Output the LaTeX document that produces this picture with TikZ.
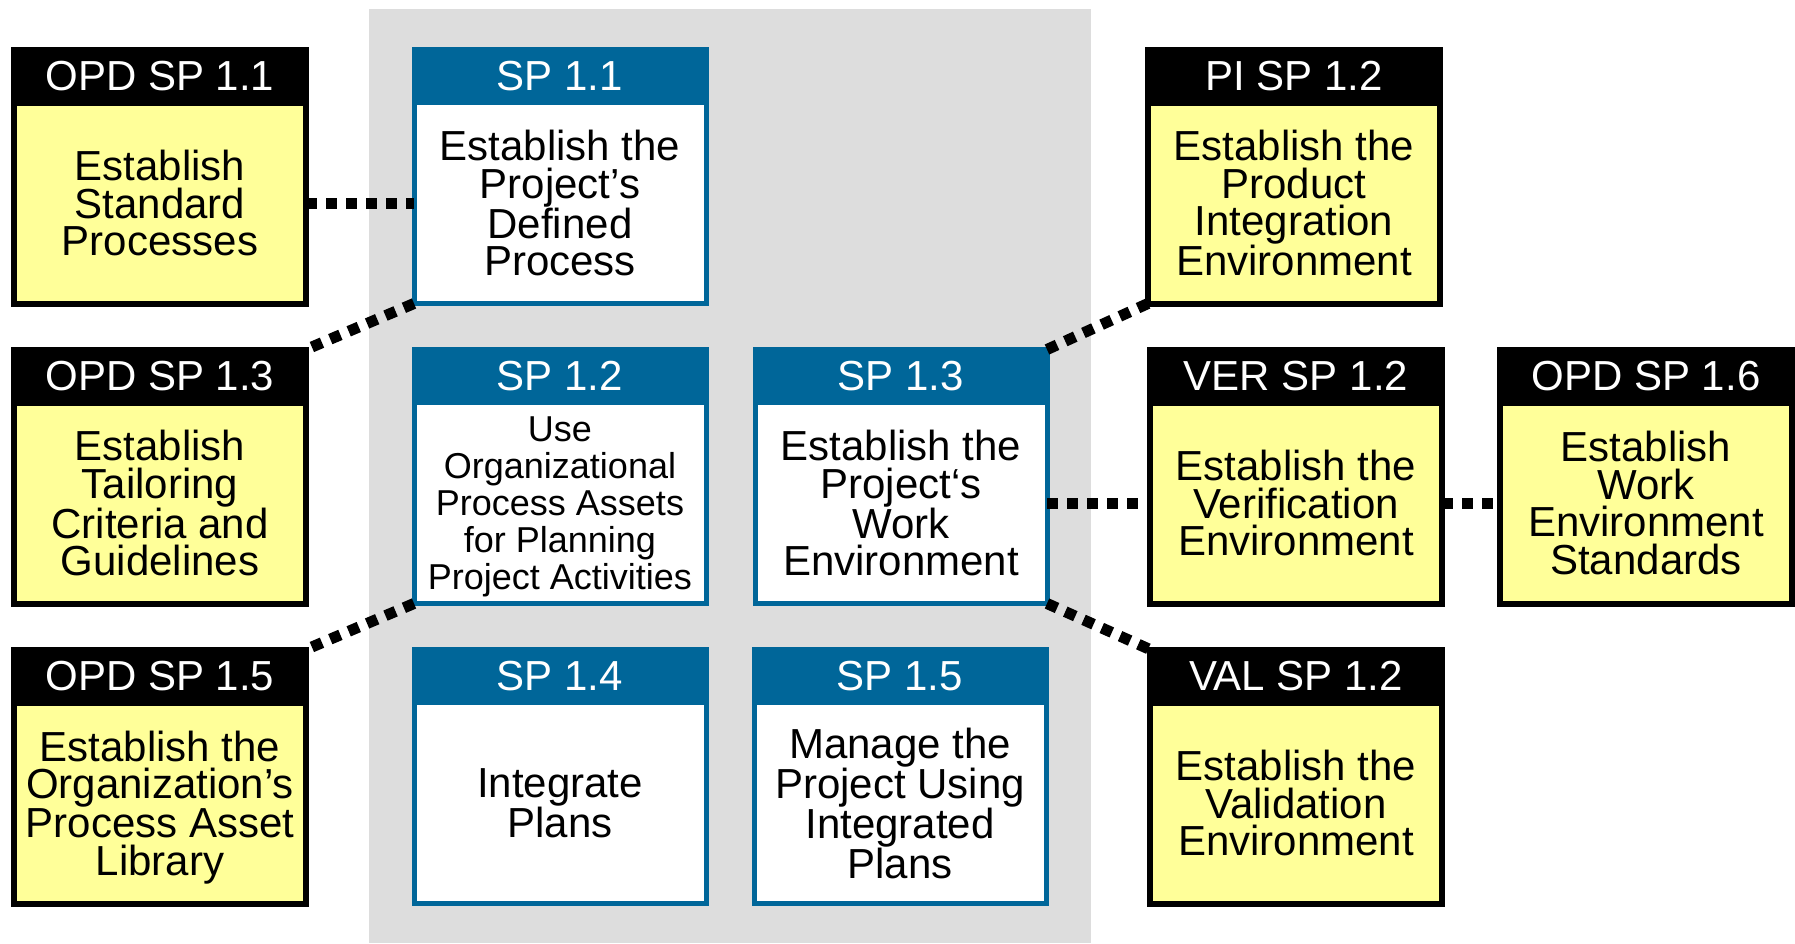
\documentclass[tikz,border=0pt]{standalone}
\usepackage{fontspec}
\setmainfont{Liberation Sans}
\usetikzlibrary{positioning}
\definecolor{sgblau}{RGB}{0,102,153}
\definecolor{sggelb}{RGB}{255,255,153}
\definecolor{sggrau}{RGB}{221,221,221}

\begin{document}
\begin{tikzpicture}
[x=1pt,y=-1pt,
kopf/.style={minimum width=292pt, minimum height=53pt, inner sep=0pt, outer sep=0pt, line width=6pt, text=white, font={\fontsize{42}{37.5}\selectfont}},
kopfa/.style={kopf, draw=black, fill=black},
kopfb/.style={kopf, draw=sgblau, fill=sgblau, line width=5pt},
feld/.style={minimum width=292pt, minimum height=201pt, inner sep=0pt, outer sep=0pt, text depth=0pt, align=center, line width=6pt, font={\fontsize{42}{37.5}\selectfont}},
felda/.style={feld, draw=black, fill=sggelb},
feldb/.style={feld, draw=sgblau, fill=white, line width=5pt},
verb/.style={line width=11pt, dash pattern=on 11pt off 9pt},
]
\useasboundingbox (0,0) rectangle (1795,943);
\fill[sggrau] (369,9) rectangle (1091,943);

\node[kopfa] (O11t) at (160,76) {OPD SP 1.1};
\node[felda, below=0pt of O11t] (O11) {Establish\\Standard\\Processes};
\node[kopfb] (S11t) at (560,76) {SP 1.1};
\node[feldb, below=0pt of S11t] (S11) {Establish the\\Project’s\\Defined\\Process};
\node[kopfa] (PIt) at (1294,76) {PI SP 1.2};
\node[felda, below=0pt of PIt] (PI) {Establish the\\Product\\Integration\\Environment};

\node[kopfa] (O13t) at (160,376) {OPD SP 1.3};
\node[felda, below=0pt of O13t] (O13) {Establish\\Tailoring\\Criteria and\\Guidelines};
\node[kopfb] (S12t) at (560,376) {SP 1.2};
\node[feldb, below=0pt of S12t, font={\fontsize{36}{37}\selectfont}] (S12) {Use\\Organizational\\Process Assets\\for Planning\\Project Activities};
\node[kopfb] (S13t) at (901,376) {SP 1.3};
\node[feldb, below=0pt of S13t] (S13) {Establish the\\Project‘s\\Work\\Environment};
\node[kopfa] (VERt) at (1296,376) {VER SP 1.2};
\node[felda, below=0pt of VERt] (VER) {Establish the\\Verification\\Environment};
\node[kopfa] (O16t) at (1646,376) {OPD SP 1.6};
\node[felda, below=0pt of O16t] (O16) {Establish\\Work\\Environment\\Standards};

\node[kopfa] (O15t) at (160,676) {OPD SP 1.5};
\node[felda, below=0pt of O15t] (O15) {Establish the\\Organization’s\\Process Asset\\Library};
\node[kopfb] (S14t) at (560,676) {SP 1.4};
\node[feldb, below=0pt of S14t] (S14) {Integrate\\Plans};
\node[kopfb] (S15t) at (900,676) {SP 1.5};
\node[feldb, below=0pt of S15t] (S15) {Manage the\\Project Using\\Integrated\\Plans};
\node[kopfa] (VALt) at (1296,676) {VAL SP 1.2};
\node[felda, below=0pt of VALt] (VAL) {Establish the\\Validation\\Environment};

\draw[verb] (O11.east) -- (S11.west);
\draw[verb] (S11.south west) -- (O13t.north east);
\draw[verb] (S12.south west) -- (O15t.north east);
\draw[verb] (S13t.north east) -- (PI.south west);
\draw[verb] (S13.east) -- (VER.west);
\draw[verb] (VER.east) -- (O16.west);
\draw[verb] (S13.south east) -- (VALt.north west);
\end{tikzpicture}
\end{document}
